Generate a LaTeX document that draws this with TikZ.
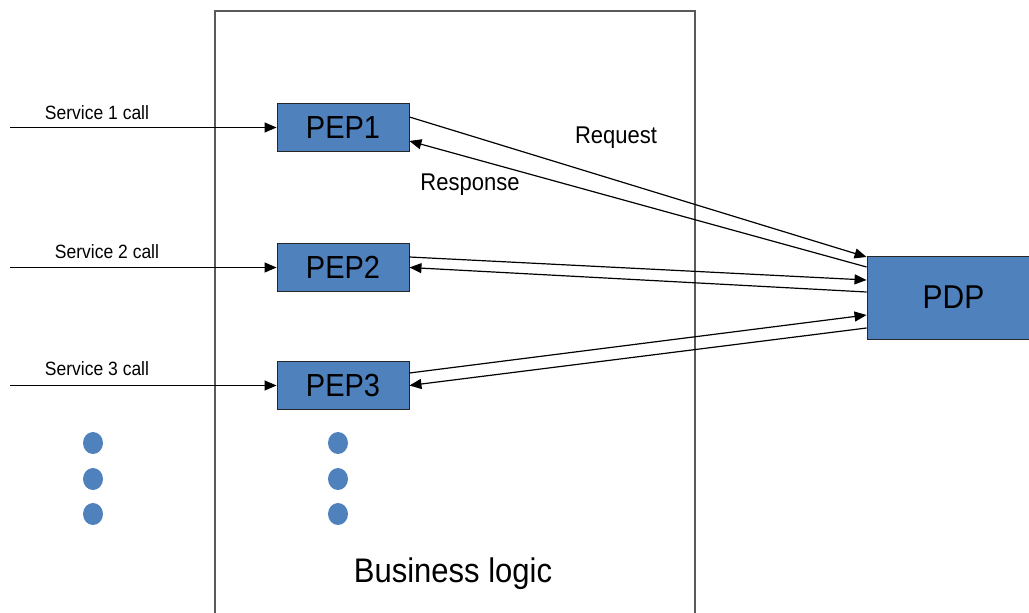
\documentclass[tikz,border=0pt]{standalone}
\usepackage{fontspec}
\usepackage{graphicx}
\setmainfont{Liberation Sans}
\usetikzlibrary{arrows.meta}
\definecolor{pepblue}{HTML}{4F81BD}
\definecolor{frame}{HTML}{5A5A5A}
\newcommand{\tall}[1]{\scalebox{1}[1.1]{#1}}
\newcommand{\fs}[1]{\fontsize{#1}{#1}\selectfont}
\tikzset{
  pepbox/.style={draw=black!85, line width=0.9pt, fill=pepblue, minimum width=132pt,
    minimum height=48pt, inner sep=0pt, font=\fs{29}},
  pdpbox/.style={draw=black!85, line width=0.9pt, fill=pepblue, minimum width=173pt,
    minimum height=83pt, inner sep=0pt, font=\fs{30}},
  conn/.style={line width=1.2pt, -{Triangle[length=12pt,width=10pt]}},
  lbl/.style={inner sep=0pt, font=\fs{17.5}},
  msg/.style={inner sep=0pt, font=\fs{22}}
}
\begin{document}
\begin{tikzpicture}[x=1pt,y=-1pt]
\useasboundingbox (0,0) rectangle (1029,613);
% Business logic frame (open at the bottom)
\draw[frame, line width=1.6pt] (215,614) -- (215,11) -- (695,11) -- (695,614);
\node[inner sep=0pt, font=\fs{31}] (bl) at (453,574) {\tall{Business logic}};

% Policy enforcement points and decision point
\node[pepbox] (pep1) at (343,127.5) {\tall{PEP1}};
\node[pepbox] (pep2) at (343,267.5) {\tall{PEP2}};
\node[pepbox] (pep3) at (343,385.5) {\tall{PEP3}};
\node[pdpbox] (pdp) at (953.5,297.5) {\tall{PDP}};

% Incoming service calls
\coordinate (s1) at (10,127.5);
\coordinate (s2) at (10,267.5);
\coordinate (s3) at (10,385.5);
\draw[conn] (s1) -- (pep1.west);
\draw[conn] (s2) -- (pep2.west);
\draw[conn] (s3) -- (pep3.west);
\node[lbl] (l1) at (97,113) {\tall{Service 1 call}};
\node[lbl] (l2) at (107,252) {\tall{Service 2 call}};
\node[lbl] (l3) at (97,369) {\tall{Service 3 call}};

% Requests and responses
\draw[conn] ([yshift=10.5pt]pep1.east) -- ([yshift=40.5pt]pdp.west);
\draw[conn] ([yshift=30.5pt]pdp.west) -- ([yshift=-13.5pt]pep1.east);
\draw[conn] ([yshift=10.5pt]pep2.east) -- ([yshift=17.5pt]pdp.west);
\draw[conn] ([yshift=5.5pt]pdp.west) -- ([yshift=0pt]pep2.east);
\draw[conn] ([yshift=12.5pt]pep3.east) -- ([yshift=-17.5pt]pdp.west);
\draw[conn] ([yshift=-30.5pt]pdp.west) -- ([yshift=0pt]pep3.east);
\node[msg] (req) at (616,138) {\tall{Request}};
\node[msg] (resp) at (470,185) {\tall{Response}};

% Ellipsis dots
\foreach \x in {93, 338}{
  \foreach \y in {443, 479, 514}{
    \fill[pepblue] (\x,\y) ellipse [x radius=10pt, y radius=11pt];
  }
}
\end{tikzpicture}
\end{document}
